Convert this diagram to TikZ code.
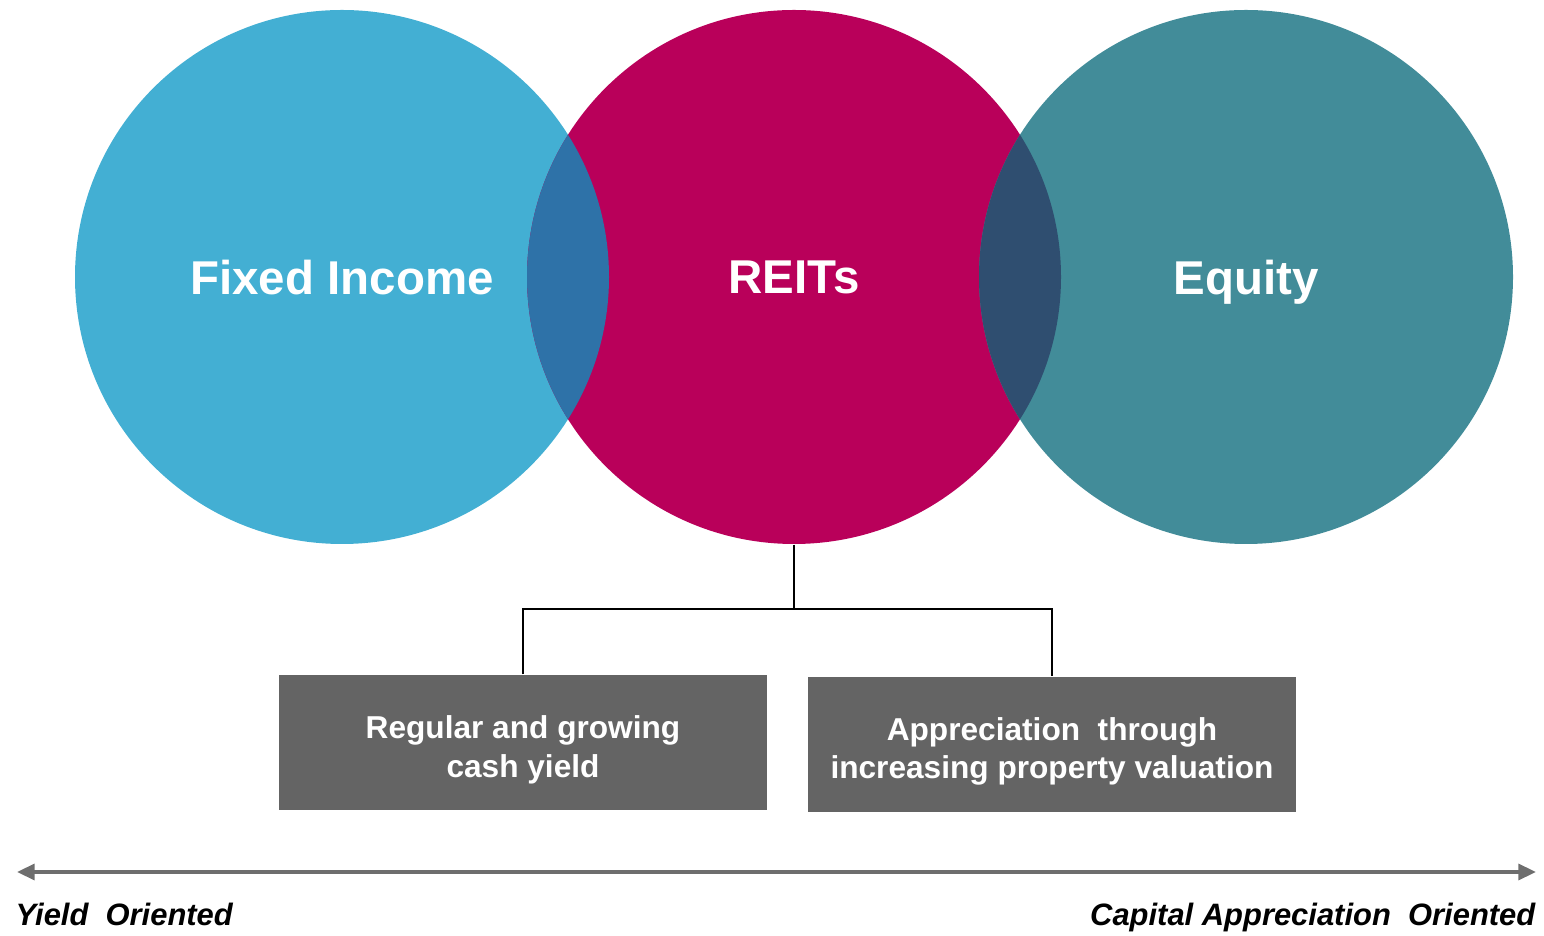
\documentclass[tikz,border=0pt]{standalone}
\usepackage{fontspec}
\setmainfont{Liberation Sans}
\usepackage{xcolor}
\usepackage{tikz}
\usetikzlibrary{arrows.meta}

\definecolor{fiblue}{HTML}{43AFD3}
\definecolor{reitred}{HTML}{B9005A}
\definecolor{eqteal}{HTML}{428C99}
\definecolor{ovblue}{HTML}{2E72A8}
\definecolor{ovnavy}{HTML}{2F4E70}
\definecolor{boxgray}{HTML}{646464}
\definecolor{axisgray}{HTML}{6E6E6E}

\begin{document}
\begin{tikzpicture}[
        >={Triangle[length=5pt, width=4.5pt]},
        venn/.style={circle, minimum size=5.34cm, inner sep=0pt, text=white, text depth=0pt,
            font=\fontsize{13.5}{16}\selectfont\bfseries},
        infobox/.style={fill=boxgray, minimum width=4.88cm, minimum height=1.35cm},
        boxtext/.style={align=center, text=white, inner sep=0pt,
            font=\fontsize{9}{11}\selectfont\bfseries},
        endlabel/.style={font=\fontsize{8.8}{10}\selectfont\bfseries\itshape, inner sep=0pt}
    ]
        \useasboundingbox (0, 0) rectangle (15.44, -9.36);

        \node[venn, fill=fiblue] (fixed) at (3.42, -2.77) {Fixed Income};
        \node[venn, fill=reitred] (reits) at (7.94, -2.77) {REITs};
        \node[venn, fill=eqteal] (equity) at (12.46, -2.77) {Equity};

        % overlaps
        \begin{scope}
            \clip (fixed.center) circle (2.67);
            \fill[ovblue] (reits.center) circle (2.67);
        \end{scope}
        \begin{scope}
            \clip (reits.center) circle (2.67);
            \fill[ovnavy] (equity.center) circle (2.67);
        \end{scope}

        \node[infobox] (cash) at (5.23, -7.425) {};
        \node[boxtext] (cashtext) at ([yshift=-0.07cm]cash.center) {Regular and growing\\cash yield};
        \node[infobox] (apprec) at (10.52, -7.445) {};
        \node[boxtext] (apprectext) at ([yshift=-0.07cm]apprec.center) {Appreciation\ \ through\\increasing property valuation};

        \coordinate (split) at (7.94, -6.09);
        \draw[line width=0.6pt] (reits.south) -- (split);
        \draw[line width=0.6pt] (cash.north) |- (split) -| (apprec.north);

        \coordinate (yieldend) at (0.17, -8.72);
        \coordinate (capend) at (15.36, -8.72);
        \draw[axisgray, line width=1pt, <->] (yieldend) -- (capend);

        \node[endlabel, anchor=base west] (yield) at (0.15, -9.26) {Yield\ \ Oriented};
        \node[endlabel, anchor=base east] (capital) at (15.36, -9.26) {Capital Appreciation\ \ Oriented};
    \end{tikzpicture}
\end{document}
